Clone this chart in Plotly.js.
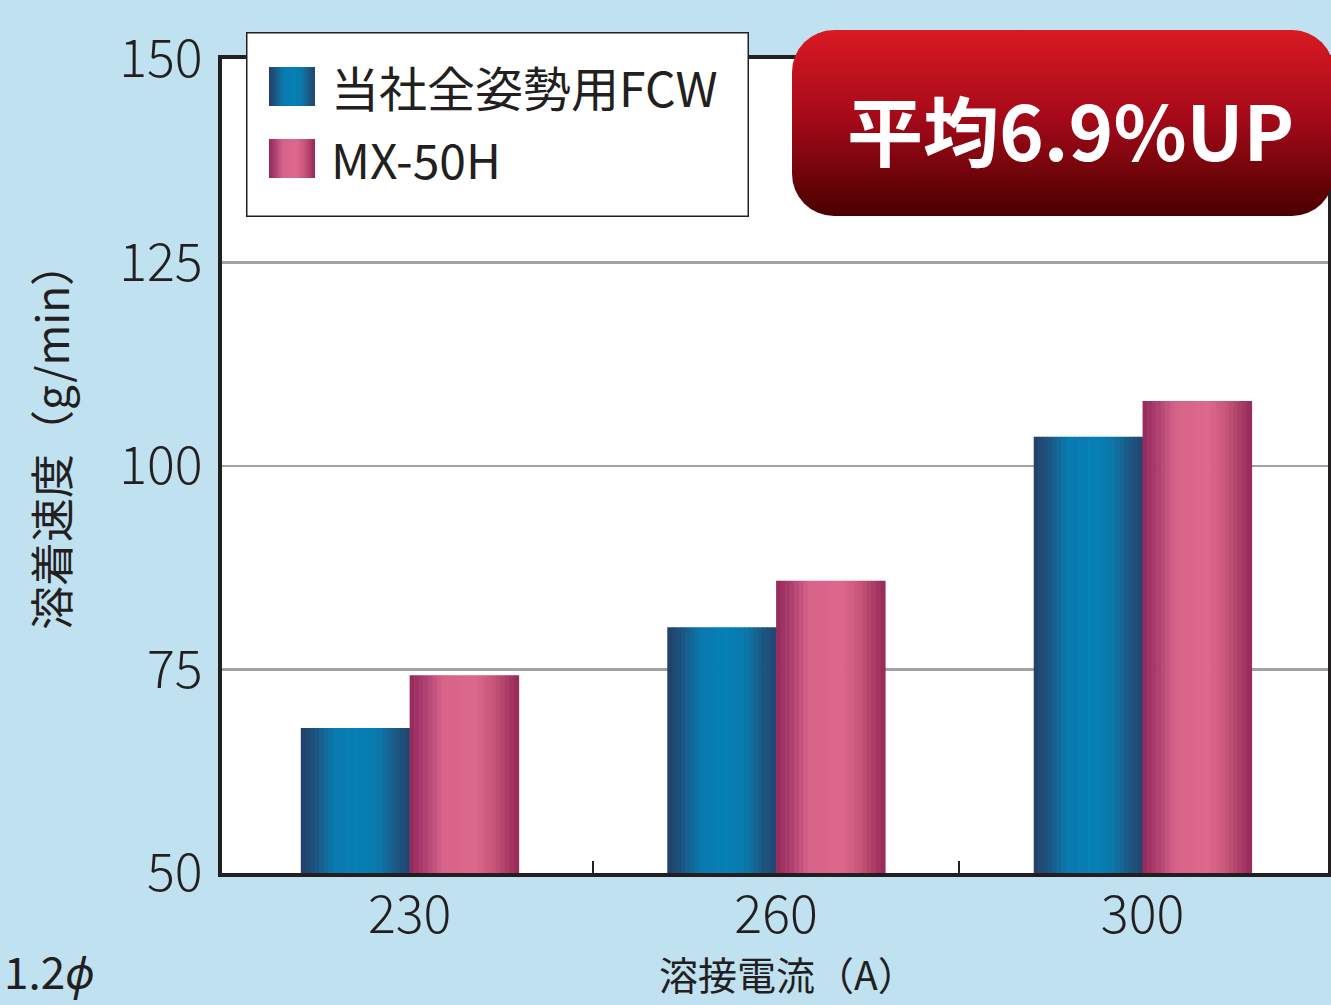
<!DOCTYPE html>
<html>
<head>
<meta charset="utf-8">
<script src="https://cdn.plot.ly/plotly-3.0.1.min.js"></script>
<style>html,body{margin:0;padding:0;background:#c0e1ef;}</style>
</head>
<body>
<div id="chart" style="width:1331px;height:1005px;"></div>
<script>
// ---- data ----
const categories = ['230', '260', '300'];
const seriesNames = ['当社全姿勢用FCW', 'MX-50H'];
const fcwValues = [67.8, 80.2, 103.6];
const mxValues = [74.3, 85.9, 108.0];
const yTickVals = [50, 75, 100, 125, 150];
const xTitle = '溶接電流（A）';
const yTitle = '溶着速度（g/min）';
const badgeText = '平均6.9%UP';
const noteText = '1.2<i>ϕ</i>';

// ---- style ----
const W = 1331, H = 1005;
const M = {l: 222, r: 3, t: 59, b: 132};
const PW = W - M.l - M.r, PH = H - M.t - M.b;
const px = x => (x - M.l) / PW;
const py = y => (H - M.b - y) / PH;
const FONT = '"Noto Sans CJK JP", "Noto Sans", sans-serif';
const TXT = '#231f20';
const XR = [-0.512, 2.506];
const blueStops = [[0,'#233f69'],[0.15,'#1b5884'],[0.3,'#0a79ae'],[0.55,'#0580b5'],[0.72,'#0b78aa'],[0.86,'#1b5a85'],[1,'#234470']];
const pinkStops = [[0,'#93285a'],[0.15,'#b04272'],[0.3,'#d7638a'],[0.6,'#dc688b'],[0.76,'#c9577b'],[0.9,'#aa3c66'],[1,'#952a5b']];

function hex2rgb(h){return [1,3,5].map(i=>parseInt(h.substr(i,2),16));}
function interp(stops,t){
  for(let i=0;i<stops.length-1;i++){
    const [t0,c0]=stops[i],[t1,c1]=stops[i+1];
    if(t>=t0&&t<=t1){
      const f=(t-t0)/(t1-t0), a=hex2rgb(c0), b=hex2rgb(c1);
      return 'rgb('+a.map((v,k)=>Math.round(v+(b[k]-v)*f)).join(',')+')';
    }
  }
  return stops[stops.length-1][1];
}
function grad(id, stops, horizontal){
  const g = stops.map(s=>`<stop offset="${s[0]}" stop-color="${s[1]}"/>`).join('');
  const dir = horizontal ? 'x1="0" y1="0" x2="1" y2="0"' : 'x1="0" y1="0" x2="0" y2="1"';
  return `<linearGradient id="${id}" ${dir}>${g}</linearGradient>`;
}
function svgURI(svg){return 'data:image/svg+xml;charset=utf-8,'+encodeURIComponent(svg);}

const barW = 0.297, N = 24;
const traces = [];
function addSeries(vals, stops, off0, name){
  for(let k=0;k<N;k++){
    traces.push({
      type:'bar', x:categories, y:vals, name:name, showlegend:false,
      width: barW/N*1.15, offset: off0 + k*barW/N,
      marker:{color: interp(stops,(k+0.5)/N), line:{width:0}},
      hoverinfo: k===0 ? 'x+y+name' : 'skip'
    });
  }
}
addSeries(fcwValues, blueStops, -barW, seriesNames[0]);
addSeries(mxValues, pinkStops, 0, seriesNames[1]);
// empty helper trace so the separator-tick axis (x2) is drawn
traces.push({type:'scatter', mode:'markers', x:[], y:[], xaxis:'x2', yaxis:'y', showlegend:false, hoverinfo:'skip'});

// legend box (white box, border, two gradient swatches) as one image: 503 x 185 px
const LB = {x0:246, y0:32, w:503, h:185};
const legendSVG = svgURI(`<svg xmlns="http://www.w3.org/2000/svg" width="${LB.w}" height="${LB.h}" viewBox="0 0 ${LB.w} ${LB.h}" preserveAspectRatio="none"><defs>${grad('b',blueStops,true)}${grad('p',pinkStops,true)}</defs><rect x="0.75" y="0.75" width="${LB.w-1.5}" height="${LB.h-1.5}" fill="#ffffff" stroke="${TXT}" stroke-width="1.5"/><rect x="23" y="35" width="46" height="39" fill="url(#b)"/><rect x="23" y="107" width="46" height="39" fill="url(#p)"/></svg>`);
const badge = svgURI(`<svg xmlns="http://www.w3.org/2000/svg" width="541" height="186" viewBox="0 0 541 186" preserveAspectRatio="none"><defs>${grad('r',[[0,'#d91a23'],[0.45,'#a80a1a'],[1,'#4a0000']],false)}</defs><rect x="0" y="0" width="541" height="186" rx="42" ry="42" fill="url(#r)"/></svg>`);

const layout = {
  width: W, height: H,
  margin: M,
  paper_bgcolor: '#c0e1ef',
  plot_bgcolor: '#ffffff',
  barmode: 'overlay',
  showlegend: false,
  font: {family: FONT, color: TXT},
  xaxis: {
    type: 'category', categoryorder: 'array', categoryarray: categories,
    range: XR, fixedrange: true,
    showline: true, mirror: true, linewidth: 4, linecolor: TXT,
    showgrid: false, ticks: '', ticklabelstandoff: -6,
    tickfont: {size: 52, family: FONT, color: TXT, weight: 300},
    title: {text: ''}
  },
  // separator ticks between the category groups
  xaxis2: {
    type: 'linear', overlaying: 'x', anchor: 'y', side: 'bottom', range: XR, fixedrange: true,
    tickvals: [0.5, 1.5], showticklabels: false, ticks: 'inside', ticklen: 12, tickwidth: 2, tickcolor: TXT,
    showgrid: false, zeroline: false, showline: false
  },
  yaxis: {
    range: [50, 150], tickvals: yTickVals, fixedrange: true,
    showline: true, mirror: true, linewidth: 4, linecolor: TXT,
    showgrid: true, gridcolor: '#a2a2a2', gridwidth: 2.5, zeroline: false,
    ticks: '', ticklabelstandoff: 5,
    tickfont: {size: 52, family: FONT, color: TXT, weight: 300},
    title: {text: ''}
  },
  images: [
    {source: legendSVG, xref:'paper', yref:'paper', x:px(LB.x0), y:py(LB.y0), sizex:px(LB.x0+LB.w)-px(LB.x0), sizey:py(LB.y0)-py(LB.y0+LB.h), xanchor:'left', yanchor:'top', sizing:'stretch', layer:'above'},
    {source: badge, xref:'paper', yref:'paper', x:px(792), y:py(30), sizex:px(1334)-px(792), sizey:py(30)-py(216), xanchor:'left', yanchor:'top', sizing:'stretch', layer:'above'}
  ],
  annotations: [
    // axis titles
    {text: yTitle, xref:'paper', yref:'paper', x:px(50), y:py(436), xanchor:'center', yanchor:'middle', textangle:-90, showarrow:false, font:{size:44, family:FONT, color:TXT}},
    {text: xTitle, xref:'paper', yref:'paper', x:px(788), y:py(973), xanchor:'center', yanchor:'middle', showarrow:false, font:{size:39, family:FONT, color:TXT}},
    // legend labels
    {text: seriesNames[0], xref:'paper', yref:'paper', x:px(329), y:py(86), xanchor:'left', yanchor:'middle', showarrow:false, font:{size:48, family:FONT, color:TXT}},
    {text: seriesNames[1], xref:'paper', yref:'paper', x:px(329), y:py(158), xanchor:'left', yanchor:'middle', showarrow:false, font:{size:48, family:FONT, color:TXT}},
    {text: '<b>'+badgeText+'</b>', xref:'paper', yref:'paper', x:px(1070), y:py(128), xanchor:'center', yanchor:'middle', showarrow:false, font:{size:76, family:FONT, color:'#ffffff'}},
    {text: noteText, xref:'paper', yref:'paper', x:px(2), y:py(1004), xanchor:'left', yanchor:'bottom', showarrow:false, font:{size:44, family:FONT, color:TXT}}
  ]
};

Plotly.newPlot('chart', traces, layout, {displayModeBar:false, staticPlot:true});
</script>
</body>
</html>
